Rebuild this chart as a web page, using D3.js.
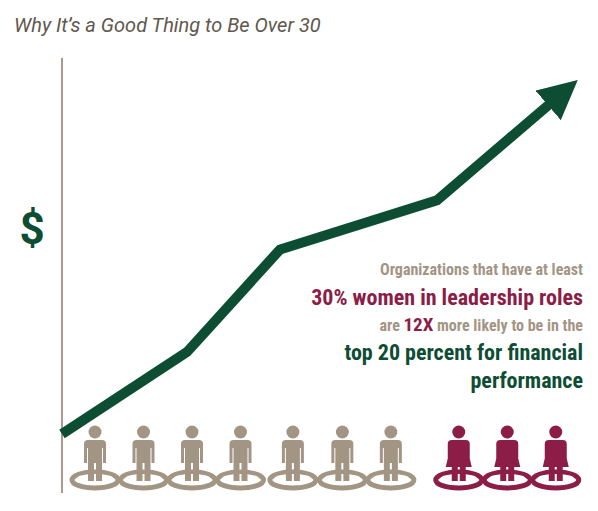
<!DOCTYPE html><html><head><meta charset="utf-8"><script src="https://cdn.jsdelivr.net/npm/d3@7"></script>
<style>body{margin:0;background:#fff}</style></head><body><svg id="c" width="598" height="511"></svg>
<script>
const stepX=[0,1,2,3,4.05,4.25];
const stepY=[0,10,22.5,28.5,41,42.8];
const people=["m","m","m","m","m","m","m","w","w","w"];
const peopleX=[0,1,2,3,4.08,5.1,6.1,7.5,8.5,9.5];
const svg=d3.select("#c");
const green="#0d4d33",maroon="#8b1d47",tan="#a39584",grey="#5f584e";
svg.append("text").attr("x",14).attr("y",32).attr("font-family","Roboto").attr("font-style","italic").attr("font-size",20).attr("fill",grey).text("Why It’s a Good Thing to Be Over 30");
svg.append("line").attr("x1",62).attr("x2",62).attr("y1",58).attr("y2",493).attr("stroke","#8a7b6c").attr("stroke-width",1.5);
svg.append("text").attr("x",32).attr("y",244).attr("text-anchor","middle").attr("font-family","Roboto").attr("font-weight","bold").attr("font-size",44).attr("fill",green).text("$");
const xs=[62,187,280,437,557,580];
const xm=d3.scaleLinear().domain([0,1,2,3,4.05,4.25]).range(xs);
const y=d3.scaleLinear().domain([0,10]).range([434,352]);
const pts=stepX.map((d,i)=>[xm(d),y(stepY[i])]);
svg.append("defs").append("marker").attr("id","ar").attr("viewBox","0 0 10 10").attr("refX",3).attr("refY",5).attr("markerWidth",3.9).attr("markerHeight",3.9).attr("orient","auto").attr("markerUnits","strokeWidth").append("path").attr("d","M0,0L10,5L0,10z").attr("fill",green);
svg.append("path").attr("d",d3.line()(pts.slice(0,5))).attr("fill","none").attr("stroke",green).attr("stroke-width",10).attr("stroke-linejoin","miter").attr("marker-end","url(#ar)");
const px=d3.scaleLinear().domain([0,1]).range([95,143.5]);
people.forEach((t,i)=>{
 const cx=px(peopleX[i]),c=t=="m"?tan:maroon,g=svg.append("g").attr("transform",`translate(${cx},0)`);
 g.append("ellipse").attr("cx",0).attr("cy",480).attr("rx",23).attr("ry",8).attr("fill","none").attr("stroke",c).attr("stroke-width",5);
 g.append("ellipse").attr("cx",0).attr("cy",478).attr("rx",18).attr("ry",4).attr("fill","#fff");
 g.append("circle").attr("cx",0).attr("cy",432).attr("r",6.5).attr("fill",c);
 if(t=="m"){
  g.append("path").attr("d","M-11,444 Q-11,440 -7,440 L7,440 Q11,440 11,444 L11,463 L8,463 L8,448 L7,448 L7,481 L1,481 L1,463 L-1,463 L-1,481 L-7,481 L-7,448 L-8,448 L-8,463 L-11,463Z").attr("fill",c);
 }else{
  g.append("path").attr("d","M-7,440 L7,440 Q11,440 11,444 L11,462 L9,462 L9,450 L13,467 L7,467 L7,481 L1,481 L1,467 L-1,467 L-1,481 L-7,481 L-7,467 L-13,467 L-9,450 L-9,462 L-11,462 L-11,444 Q-11,440 -7,440Z").attr("fill",c);
 }
});
const F="'Roboto Condensed','Liberation Sans Narrow','Roboto',sans-serif";
const T=(yy,parts)=>{const t=svg.append("text").attr("x",583).attr("y",yy).attr("text-anchor","end").attr("font-family",F).attr("font-weight","bold");parts.forEach(p=>t.append("tspan").attr("font-size",p[2]).attr("fill",p[1]).text(p[0]));};
T(275,[["Organizations that have at least",tan,16]]);
T(305,[["30% women in leadership roles",maroon,22]]);
T(331,[["are ",tan,16],["12X",maroon,19],[" more likely to be in the",tan,16]]);
T(360,[["top 20 percent for financial",green,22]]);
T(388,[["performance",green,22]]);
</script></body></html>
